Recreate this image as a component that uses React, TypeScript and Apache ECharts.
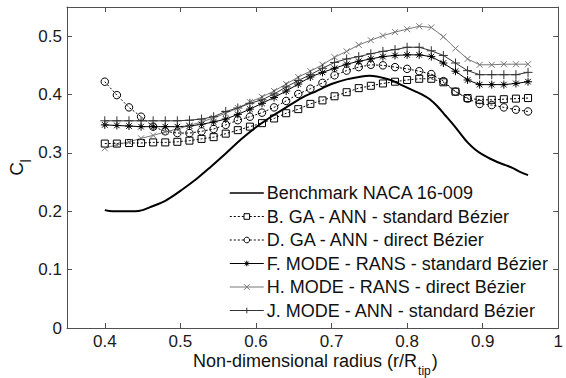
import React, { useEffect, useRef } from "react";
import * as echarts from "echarts";

const radius = [
  0.4, 0.416, 0.432, 0.448, 0.464, 0.48, 0.496, 0.512, 0.528, 0.544, 0.56, 0.576,
  0.592, 0.608, 0.624, 0.64, 0.656, 0.672, 0.688, 0.704, 0.72, 0.736, 0.752, 0.768,
  0.784, 0.8, 0.816, 0.832, 0.848, 0.864, 0.88, 0.896, 0.912, 0.928, 0.944, 0.96,
];

const gaAnnStd = [
  0.316, 0.316, 0.317, 0.317, 0.318, 0.318, 0.319, 0.321, 0.324, 0.327, 0.333, 0.339,
  0.345, 0.351, 0.359, 0.368, 0.375, 0.384, 0.39, 0.397, 0.404, 0.411, 0.415, 0.419,
  0.422, 0.425, 0.427, 0.427, 0.421, 0.405, 0.394, 0.391, 0.391, 0.392, 0.393, 0.394,
];

const gaAnnDirect = [
  0.422, 0.399, 0.378, 0.362, 0.345, 0.337, 0.334, 0.334, 0.337, 0.341, 0.348, 0.356,
  0.362, 0.369, 0.378, 0.389, 0.401, 0.41, 0.42, 0.433, 0.441, 0.447, 0.451, 0.45,
  0.447, 0.444, 0.44, 0.435, 0.423, 0.405, 0.393, 0.384, 0.382, 0.378, 0.374, 0.371,
];

const modeRansStd = [
  0.348, 0.347, 0.346, 0.345, 0.345, 0.345, 0.345, 0.346, 0.349, 0.353, 0.358, 0.366,
  0.375, 0.385, 0.395, 0.406, 0.418, 0.43, 0.438, 0.445, 0.452, 0.457, 0.461, 0.465,
  0.467, 0.468, 0.468, 0.465, 0.454, 0.44, 0.425, 0.417, 0.417, 0.417, 0.419, 0.422,
];

const modeRansDirect = [
  0.308, 0.314, 0.319, 0.325, 0.33, 0.336, 0.341, 0.347, 0.353, 0.36, 0.368, 0.377,
  0.387, 0.396, 0.406, 0.418, 0.43, 0.44, 0.451, 0.464, 0.474, 0.485, 0.493, 0.501,
  0.507, 0.512, 0.517, 0.515, 0.499, 0.479, 0.461, 0.451, 0.451, 0.452, 0.452, 0.452,
];

const modeAnnStd = [
  0.355, 0.355, 0.355, 0.355, 0.355, 0.355, 0.355, 0.356, 0.358, 0.362, 0.371, 0.377,
  0.385, 0.391, 0.401, 0.413, 0.424, 0.434, 0.445, 0.455, 0.461, 0.465, 0.47, 0.474,
  0.477, 0.481, 0.481, 0.475, 0.467, 0.454, 0.441, 0.434, 0.434, 0.434, 0.434, 0.438,
];

const benchX = [
  0.4, 0.41, 0.42, 0.43, 0.44, 0.45, 0.46, 0.47, 0.48, 0.49, 0.5, 0.52, 0.54, 0.56,
  0.58, 0.6, 0.62, 0.64, 0.66, 0.68, 0.7, 0.72, 0.74, 0.75, 0.76, 0.77, 0.78, 0.79,
  0.8, 0.81, 0.82, 0.83, 0.84, 0.85, 0.86, 0.87, 0.88, 0.89, 0.9, 0.91, 0.92, 0.93,
  0.94, 0.95, 0.96,
];
const benchY = [
  0.202, 0.2, 0.2, 0.2, 0.2, 0.202, 0.207, 0.212, 0.218, 0.226, 0.235, 0.254, 0.276,
  0.299, 0.323, 0.344, 0.362, 0.378, 0.394, 0.406, 0.418, 0.426, 0.431, 0.432, 0.431,
  0.428, 0.424, 0.418, 0.412, 0.406, 0.4, 0.392, 0.38, 0.365, 0.35, 0.334, 0.318,
  0.306, 0.297, 0.29, 0.284, 0.279, 0.274, 0.267, 0.262,
];

const seriesNames = [
  "Benchmark NACA 16-009",
  "B. GA - ANN - standard Bézier",
  "D. GA - ANN - direct Bézier",
  "F. MODE - RANS - standard Bézier",
  "H. MODE - RANS - direct Bézier",
  "J. MODE - ANN - standard Bézier",
];

const FONT = '"Liberation Sans", Arial, sans-serif';
const AXIS_COLOR = "#505050";

const PLUS = "path://M5,0L5,10M0,5L10,5";
const CROSS = "path://M0,0L10,10M10,0L0,10";
const STAR = "path://M5,0L5,10M0,5L10,5M1.5,1.5L8.5,8.5M8.5,1.5L1.5,8.5M4,4L6,4L6,6L4,6Z";

function measure(text: string, font: string): number {
  const c = document.createElement("canvas").getContext("2d");
  if (!c) return text.length * 8;
  c.font = font;
  return c.measureText(text).width;
}

export default function App() {
  const ref = useRef<HTMLDivElement>(null);
  useEffect(() => {
    if (!ref.current) return;
    const chart = echarts.init(ref.current, null, { renderer: "svg" });

    const pairs = (ys: number[]) => radius.map((x, i) => [x, ys[i]]);
    const benchData = benchX.map((x, i) => [x, benchY[i]]);

    const seriesColors = ["#000", "#000", "#000", "#000", "#777", "#333"];
    const seriesFills = ["#000", "transparent", "transparent", "#000", "#777", "#333"];

    const markerSeries = (
      idx: number,
      ys: number[],
      symbol: string,
      size: number,
      dashed: boolean
    ) => ({
      name: seriesNames[idx],
      type: "line",
      data: pairs(ys),
      symbol,
      symbolSize: size,
      showAllSymbol: true,
      lineStyle: { color: seriesColors[idx], width: 1, type: dashed ? [2, 2] : "solid" },
      itemStyle: { color: seriesFills[idx], borderColor: seriesColors[idx], borderWidth: 1 },
      emphasis: { disabled: true },
    });

    const mainFont = `18px ${FONT}`;
    const mainText = "Non-dimensional radius (r/R";
    const wMain = measure(mainText, mainFont);
    const wSub = measure("tip", `12px ${FONT}`);
    const titleX = 193;

    const xAxisBase = {
      type: "value",
      min: 0.35,
      max: 1,
      splitNumber: 6,
      minInterval: 0.1,
      maxInterval: 0.1,
      splitLine: { show: false },
      axisLine: { show: true, onZero: false, lineStyle: { color: AXIS_COLOR, width: 1 } },
      axisTick: { show: true, inside: true, length: 5, lineStyle: { color: AXIS_COLOR } },
    };
    const yAxisBase = {
      type: "value",
      min: 0,
      max: 0.55,
      interval: 0.1,
      splitLine: { show: false },
      axisLine: { show: true, onZero: false, lineStyle: { color: AXIS_COLOR, width: 1 } },
      axisTick: { show: true, inside: true, length: 5, lineStyle: { color: AXIS_COLOR } },
    };

    const legendData = seriesNames.map((name, i) => ({
      name,
      lineStyle: { width: i === 0 ? 1.6 : 1 },
      itemStyle:
        i === 0
          ? { opacity: 0 }
          : { color: seriesFills[i] === "transparent" ? "#fff" : seriesFills[i], borderColor: seriesColors[i], borderWidth: 1 },
    }));

    chart.setOption({
      animation: false,
      backgroundColor: "#fff",
      textStyle: { fontFamily: FONT },
      grid: { left: 67, right: 1, top: 7, bottom: 50, containLabel: false },
      xAxis: [
        {
          ...xAxisBase,
          position: "bottom",
          axisLabel: {
            show: true,
            showMinLabel: false,
            showMaxLabel: true,
            hideOverlap: false,
            margin: 5,
            fontSize: 17,
            color: "#1a1a1a",
            fontFamily: FONT,
          },
        },
        { ...xAxisBase, position: "top", axisLabel: { show: false } },
      ],
      yAxis: [
        {
          ...yAxisBase,
          position: "left",
          axisLabel: {
            show: true,
            showMaxLabel: false,
            margin: 5,
            fontSize: 17,
            color: "#1a1a1a",
            fontFamily: FONT,
          },
        },
        { ...yAxisBase, position: "right", axisLabel: { show: false } },
      ],
      legend: {
        show: true,
        orient: "vertical",
        left: 229,
        top: 183,
        padding: 0,
        itemWidth: 34,
        itemHeight: 7,
        itemGap: 3.5,
        selectedMode: false,
        lineStyle: { width: 1 },
        itemStyle: { borderWidth: 1 },
        textStyle: { fontSize: 18, lineHeight: 20, color: "#111", fontFamily: FONT, padding: [0, 0, 0, -2] },
        data: legendData,
      },
      series: [
        {
          name: seriesNames[0],
          type: "line",
          data: benchData,
          symbol: "none",
          smooth: 0.3,
          lineStyle: { color: "#000", width: 2 },
          itemStyle: { color: "#000" },
          emphasis: { disabled: true },
          z: 3,
        },
        markerSeries(1, gaAnnStd, "rect", 7, true),
        markerSeries(2, gaAnnDirect, "circle", 7.5, true),
        markerSeries(3, modeRansStd, STAR, 8, false),
        markerSeries(4, modeRansDirect, CROSS, 6, false),
        markerSeries(5, modeAnnStd, PLUS, 9, false),
      ],
      graphic: [
        {
          type: "text",
          x: titleX,
          y: 360.5,
          style: { text: mainText, font: mainFont, fill: "#111", align: "left", verticalAlign: "middle" },
        },
        {
          type: "text",
          x: titleX + wMain + 1,
          y: 370.8,
          style: { text: "tip", font: `12px ${FONT}`, fill: "#111", align: "left", verticalAlign: "middle" },
        },
        {
          type: "text",
          x: titleX + wMain + 1 + wSub + 1,
          y: 360.5,
          style: { text: ")", font: mainFont, fill: "#111", align: "left", verticalAlign: "middle" },
        },
        {
          type: "text",
          x: 16.4,
          y: 169,
          rotation: Math.PI / 2,
          style: { text: "C", font: `19px ${FONT}`, fill: "#111", align: "center", verticalAlign: "middle" },
        },
        {
          type: "text",
          x: 25.9,
          y: 161,
          rotation: Math.PI / 2,
          style: { text: "l", font: `14px ${FONT}`, fill: "#111", align: "center", verticalAlign: "middle" },
        },
      ],
    });

    return () => chart.dispose();
  }, []);

  return (
    <div
      ref={ref}
      style={{ position: "absolute", left: 0, top: 0, width: 566, height: 378 }}
    />
  );
}
